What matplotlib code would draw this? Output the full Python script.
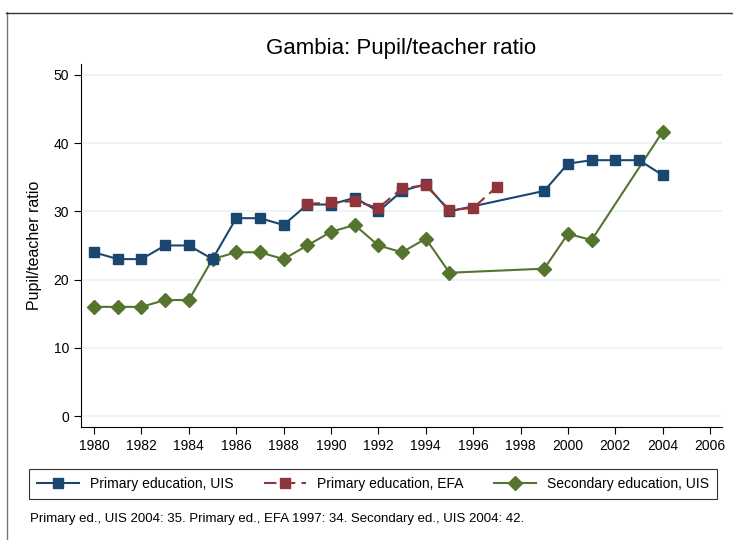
import numpy as np
import matplotlib.pyplot as plt
from matplotlib.lines import Line2D

plt.rcParams['font.family'] = ['Liberation Sans', 'DejaVu Sans']

# Primary education, UIS
prim_uis_years = [1980, 1981, 1982, 1983, 1984, 1985, 1986, 1987, 1988, 1989, 1990,
                  1991, 1992, 1993, 1994, 1995, 1999, 2000, 2001, 2002, 2003, 2004]
prim_uis_vals = [24, 23, 23, 25, 25, 23, 29, 29, 28, 31, 31,
                 32, 30, 33, 34, 30, 33, 37, 37.5, 37.5, 37.5, 35.3]

# Primary education, EFA
prim_efa_years = [1989, 1990, 1991, 1992, 1993, 1994, 1995, 1996, 1997]
prim_efa_vals = [31.1, 31.3, 31.5, 30.5, 33.4, 33.8, 30.2, 30.5, 33.6]

# Secondary education, UIS
sec_uis_years = [1980, 1981, 1982, 1983, 1984, 1985, 1986, 1987, 1988, 1989, 1990,
                 1991, 1992, 1993, 1994, 1995, 1999, 2000, 2001, 2004]
sec_uis_vals = [16, 16, 16, 17, 17, 23, 24, 24, 23, 25, 27,
                28, 25, 24, 26, 21, 21.6, 26.7, 25.8, 41.7]

xticks = list(range(1980, 2007, 2))
yticks = [0, 10, 20, 30, 40, 50]

blue = '#1a476f'
red = '#90353b'
green = '#55752f'

W, H = 733, 540
fig = plt.figure(figsize=(W / 100, H / 100), dpi=100)
ax = fig.add_axes([81 / W, 1 - 427 / H, 641 / W, 363 / H])

for y in yticks:
    ax.axhline(y, color='#eaf2f3', lw=1.2, zorder=0)

ax.plot(prim_uis_years, prim_uis_vals, color=blue, lw=1.5, marker='s', ms=7.5,
        label='Primary education, UIS', zorder=3)
ax.plot(prim_efa_years, prim_efa_vals, color=red, lw=1.5, marker='s', ms=7.5,
        dashes=(6, 3), label='Primary education, EFA', zorder=4)
ax.plot(sec_uis_years, sec_uis_vals, color=green, lw=1.5, marker='D', ms=7.5,
        label='Secondary education, UIS', zorder=2)

ax.set_xlim(1979.45, 2006.5)
ax.set_ylim(-1.61, 51.6)
ax.set_xticks(xticks)
ax.set_yticks(yticks)
ax.tick_params(labelsize=10, length=5, color='black')
for s in ['top', 'right']:
    ax.spines[s].set_visible(False)
ax.set_ylabel('Pupil/teacher ratio', fontsize=11.5, labelpad=8)
ax.set_title('Gambia: Pupil/teacher ratio', fontsize=16, pad=7)

leg = fig.legend(loc='center', bbox_to_anchor=(373 / W, 1 - 484 / H), ncol=3,
                 fontsize=10, frameon=True, fancybox=False, edgecolor='black',
                 handlelength=3, columnspacing=2.2, borderpad=0.6)
leg.get_frame().set_linewidth(0.8)

fig.text(30 / W, 1 - 519 / H,
         'Primary ed., UIS 2004: 35. Primary ed., EFA 1997: 34. Secondary ed., UIS 2004: 42.',
         fontsize=9.5, va='center')

# outer frame lines
fig.add_artist(Line2D([6.5 / W, 6.5 / W], [0, 1 - 12 / H], color='#777777', lw=1))
fig.add_artist(Line2D([6 / W, 1], [1 - 12.5 / H, 1 - 12.5 / H], color='#333333', lw=1))

fig.savefig('out.png', dpi=100)
